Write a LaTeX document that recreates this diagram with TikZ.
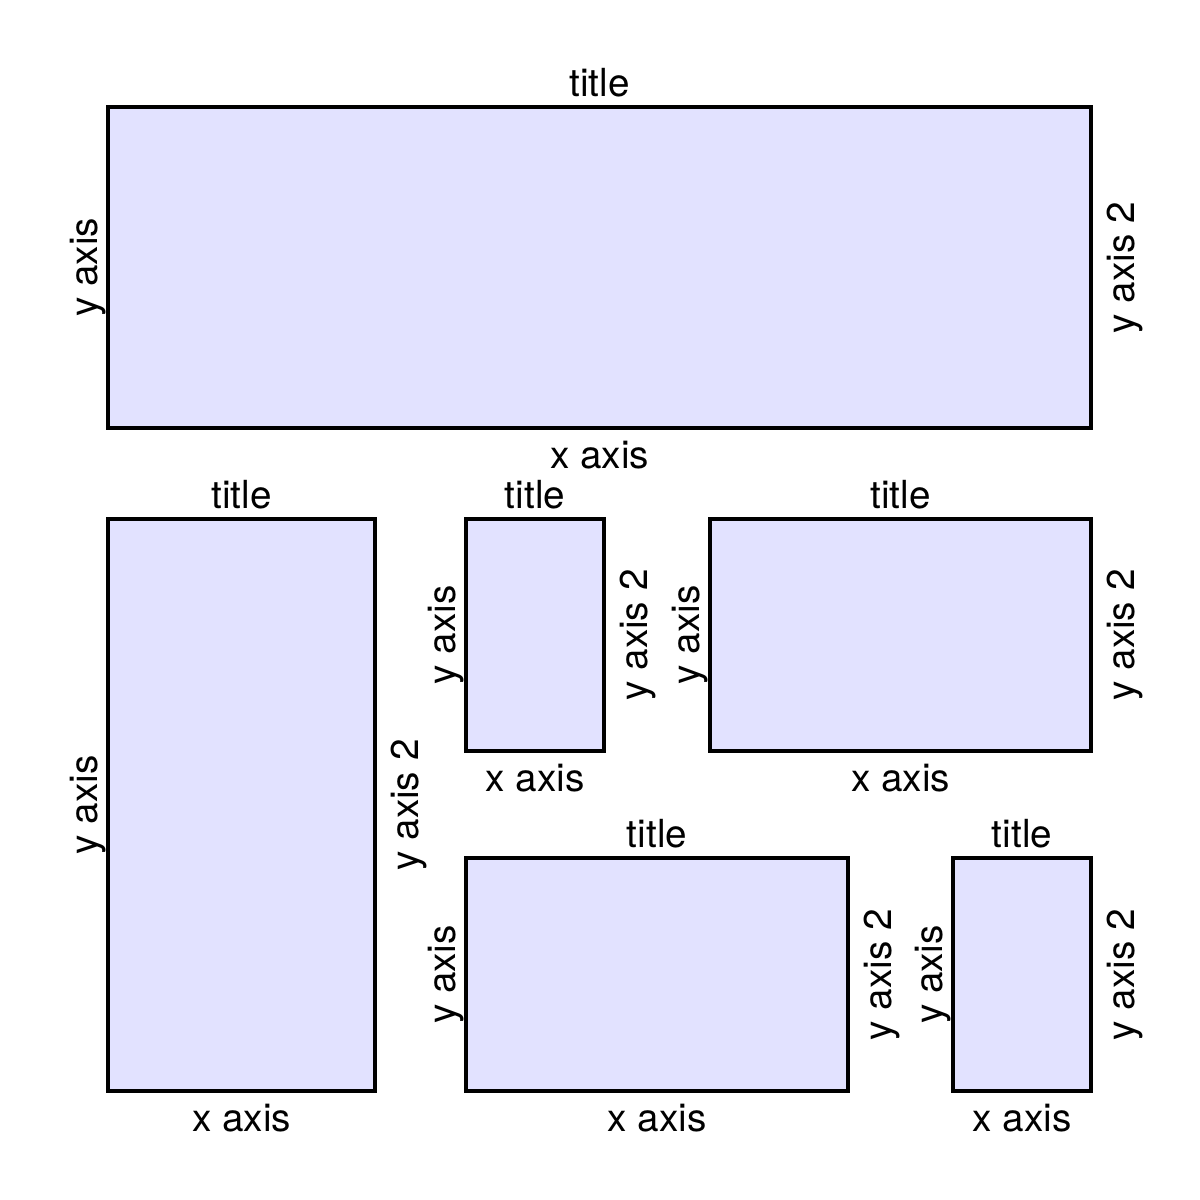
\documentclass[tikz,border=0pt]{standalone}
\usepackage{fontspec}
\setmainfont{TeX Gyre Heros}
\usepackage{tikz}
\usetikzlibrary{positioning,fit}
\definecolor{panelfill}{HTML}{E2E2FF}

\begin{document}
\begin{tikzpicture}[
    x=0.01cm, y=-0.01cm,
    panel/.style={
        draw, fill=panelfill, line width=1.3pt, inner sep=0pt
    },
    lbl/.style={font=\fontsize{11}{13}\selectfont, inner sep=0pt, anchor=base},
    ylbl/.style={lbl, rotate=90}
]
    \useasboundingbox (0,0) rectangle (1200,1200);

    % panels
    \node[panel, fit={(108,107) (1091,428)}] (wide) {};
    \node[panel, fit={(108,519) (375,1091)}] (tall) {};
    \node[panel, fit={(466,519) (604,751)}] (narrowA) {};
    \node[panel, fit={(710,519) (1091,751)}] (midA) {};
    \node[panel, fit={(466,858) (848,1091)}] (midB) {};
    \node[panel, fit={(953,858) (1091,1091)}] (narrowB) {};

    % axis labels round every panel
    \foreach \p in {wide, tall, narrowA, midA, midB, narrowB} {
        \node[above=0.08cm of \p, lbl] (\p-title) {title};
        \node[below=0.38cm of \p, lbl] (\p-x) {x axis};
        \node[left=0.08cm of \p, ylbl] (\p-y) {y axis};
        \node[right=0.41cm of \p, ylbl] (\p-y2) {y axis 2};
    }
\end{tikzpicture}
\end{document}
